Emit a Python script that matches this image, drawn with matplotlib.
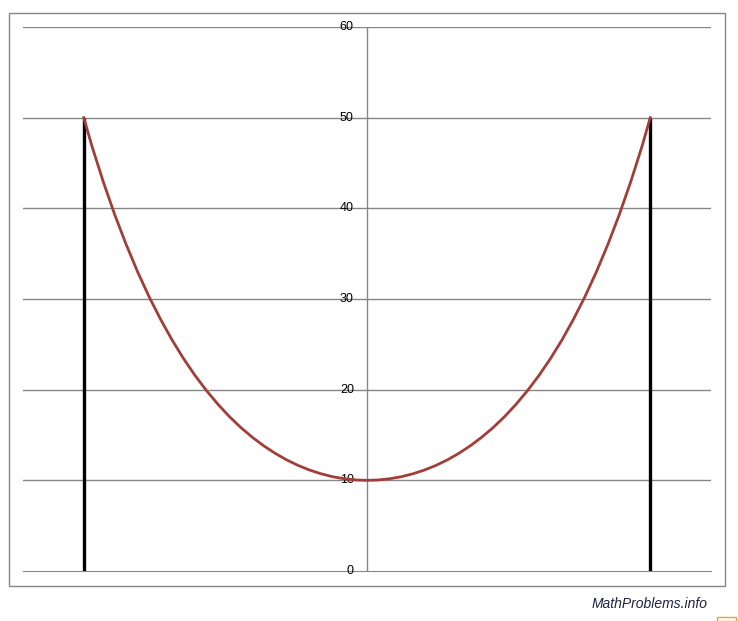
import matplotlib.pyplot as plt
from matplotlib.patches import Rectangle

# cable shape (half span, symmetric)
half_x = [0, 1, 2, 3, 4, 5, 6, 7, 8, 9, 10, 11, 12, 13, 14, 15, 16, 17, 18,
          19, 20, 21, 22, 23, 24, 24.7]
half_y = [10.0, 10.04, 10.18, 10.4, 10.72, 11.13, 11.64, 12.25, 12.97, 13.8,
          14.75, 15.82, 17.03, 18.39, 19.9, 21.57, 23.43, 25.48, 27.75, 30.24,
          32.98, 36.0, 39.3, 42.93, 46.91, 50.0]
pole_x = [-24.7, 24.7]
pole_top = 50
y_ticks = [0, 10, 20, 30, 40, 50, 60]

cable_x = [-v for v in half_x[::-1]] + half_x[1:]
cable_y = half_y[::-1] + half_y[1:]

fig = plt.figure(figsize=(7.38, 6.21), dpi=100)
fig.patch.set_facecolor("white")

# outer chart border
fig.patches.append(Rectangle((9 / 738, 1 - 586 / 621), 716 / 738, 573 / 621,
                             transform=fig.transFigure, fill=False,
                             edgecolor="#868686", linewidth=1.0))
# small orange box at the corner
fig.patches.append(Rectangle((717 / 738, 0.5 / 621), 19 / 738, 4 / 621,
                             transform=fig.transFigure, fill=False,
                             edgecolor="#F0A030", linewidth=1.0))

ax = fig.add_axes([23 / 738, 50 / 621, 688 / 738, 544 / 621])
ax.set_xlim(-30, 30)
ax.set_ylim(0, 60)

for s in ["left", "right", "top"]:
    ax.spines[s].set_visible(False)
ax.spines["bottom"].set_color("#868686")
ax.spines["bottom"].set_zorder(1)
ax.axvline(0, color="#868686", linewidth=1.0, zorder=1)

for t in y_ticks[1:]:
    ax.axhline(t, color="#868686", linewidth=1.0, zorder=1)

ax.set_xticks([])
ax.set_yticks([])
for t in y_ticks:
    ax.text(-1.15, t, str(t), ha="right", va="center", fontsize=9,
            family="Liberation Sans", color="black", zorder=3)

for px in pole_x:
    ax.plot([px, px], [0, pole_top], color="black", linewidth=2.4,
            solid_capstyle="butt", zorder=2)
ax.plot(cable_x, cable_y, color="#A23E3A", linewidth=2.0, zorder=4)

fig.text(650 / 738, 1 - 604 / 621, "MathProblems.info", ha="center",
         va="center", fontsize=10, style="italic", color="#1F2040",
         family="Liberation Sans")

fig.savefig("out.png", dpi=100)
